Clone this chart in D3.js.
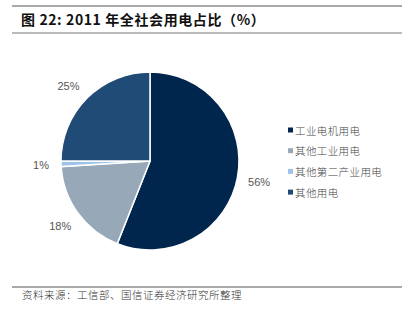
<!DOCTYPE html>
<html>
<head>
<meta charset="utf-8">
<script src="https://cdn.jsdelivr.net/npm/d3@7"></script>
<style>
  html, body { margin: 0; padding: 0; background: #fff; }
  svg { display: block; }
</style>
</head>
<body>
<svg id="chart" width="414" height="323"></svg>
<script>
// 2011 electricity consumption share by use
const categories = ["工业电机用电", "其他工业用电", "其他第二产业用电", "其他用电"];
const shares = [56, 18, 1, 25];
const labels = ["56%", "18%", "1%", "25%"];
const colors = ["#00264e", "#97a8b9", "#9dc3e6", "#1f4b76"];

const svg = d3.select("#chart");

// title with rules above and below
svg.append("line").attr("x1", 12).attr("x2", 402).attr("y1", 6).attr("y2", 6)
  .attr("stroke", "#555").attr("stroke-width", 1.2);
svg.append("line").attr("x1", 12).attr("x2", 402).attr("y1", 33).attr("y2", 33)
  .attr("stroke", "#777").attr("stroke-width", 1.2);
svg.append("text").attr("x", 21).attr("y", 25)
  .attr("font-family", "'Noto Sans CJK SC', Arial, sans-serif")
  .attr("font-size", 14).attr("font-weight", "bold").attr("fill", "#111")
  .attr("letter-spacing", 0.6)
  .text("图 22: 2011 年全社会用电占比（%）");

// pie
const cx = 150, cy = 161, r = 89;
const pie = d3.pie().sort(null).value(d => d)(shares);
const arc = d3.arc().innerRadius(0).outerRadius(r);
const g = svg.append("g").attr("transform", `translate(${cx},${cy})`);
g.selectAll("path").data(pie).join("path")
  .attr("d", arc)
  .attr("fill", (d, i) => colors[i])
  .attr("stroke", "#fff").attr("stroke-width", 1.5);

// outside labels
const labelArc = d3.arc().innerRadius(r + 22).outerRadius(r + 22);
const labelOffsets = [[0, 0], [0, 0], [2, 0], [-3, 3]];
g.selectAll("text.lbl").data(pie).join("text")
  .attr("class", "lbl")
  .attr("x", (d, i) => labelArc.centroid(d)[0] + labelOffsets[i][0])
  .attr("y", (d, i) => labelArc.centroid(d)[1] + labelOffsets[i][1])
  .attr("text-anchor", "middle").attr("dominant-baseline", "central")
  .attr("font-family", "Arial, 'Liberation Sans', sans-serif")
  .attr("font-size", 11).attr("fill", "#555")
  .text((d, i) => labels[i]);

// legend
const legend = svg.append("g").attr("transform", "translate(288,130)");
const rows = legend.selectAll("g").data(categories).join("g")
  .attr("transform", (d, i) => `translate(0,${i * 20.7})`);
rows.append("rect").attr("x", 0).attr("y", -2.5).attr("width", 5).attr("height", 5)
  .attr("fill", (d, i) => colors[i]);
rows.append("text").attr("x", 7).attr("y", 0)
  .attr("dominant-baseline", "central")
  .attr("font-family", "'Noto Sans CJK SC', sans-serif")
  .attr("font-size", 10.5).attr("font-weight", 300).attr("fill", "#444")
  .attr("letter-spacing", 0.4)
  .text(d => d);

// source note
svg.append("line").attr("x1", 12).attr("x2", 402).attr("y1", 287).attr("y2", 287)
  .attr("stroke", "#555").attr("stroke-width", 1.2);
svg.append("text").attr("x", 22).attr("y", 299)
  .attr("font-family", "'Noto Sans CJK SC', sans-serif")
  .attr("font-size", 10.5).attr("font-weight", 300).attr("fill", "#333")
  .attr("letter-spacing", 0.5)
  .text("资料来源：工信部、国信证券经济研究所整理");
</script>
</body>
</html>
